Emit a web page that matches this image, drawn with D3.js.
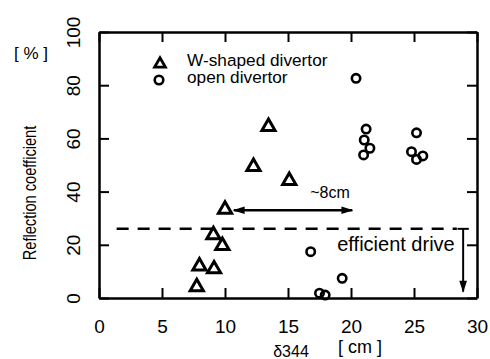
<!DOCTYPE html>
<html>
<head>
<meta charset="utf-8">
<script src="https://cdn.jsdelivr.net/npm/d3@7"></script>
<style>
  body { margin: 0; background: #fff; }
  svg { display: block; font-family: "Liberation Sans", Arial, sans-serif; }
</style>
</head>
<body>
<svg id="chart"></svg>
<script>
// W-shaped divertor (triangles)
const wShapedX = [13.45, 12.26, 15.1, 10.0, 9.08, 9.79, 7.97, 9.13, 7.76]
const wShapedY = [64.4, 49.4, 44.1, 33.3, 23.7, 19.7, 12.0, 10.9, 4.2]
// open divertor (circles)
const openX = [20.4, 21.2, 21.05, 21.5, 21.0, 25.2, 24.8, 25.2, 25.7, 16.8, 19.3, 17.5, 17.95]
const openY = [82.6, 63.5, 59.4, 56.3, 53.8, 62.1, 55.0, 52.1, 53.4, 17.4, 7.4, 1.8, 1.1]

const xTicks = [0, 5, 10, 15, 20, 25, 30]
const yTicks = [0, 20, 40, 60, 80, 100]

// annotations
const thresholdLine = [{ x: 1.4, y: 26 }, { x: 28.4, y: 26 }]
const spreadArrow = [{ x: 10.7, y: 33 }, { x: 20.1, y: 33 }]
const driveArrow = [{ x: 28.9, y: 26 }, { x: 28.9, y: 2.4 }]

const w = 490
const h = 359
const margin = { top: 32, right: 13, bottom: 61, left: 99 }

const svg = d3.select('#chart')
  .attr('width', w)
  .attr('height', h)

const defs = svg.append('defs')
defs.append('marker')
  .attr('id', 'head')
  .attr('viewBox', '0 0 10 10')
  .attr('refX', 9).attr('refY', 5)
  .attr('markerWidth', 14).attr('markerHeight', 12)
  .attr('orient', 'auto-start-reverse')
  .attr('markerUnits', 'userSpaceOnUse')
  .append('path').attr('d', 'M0,1.8 L10,5 L0,8.2 Z').attr('fill', '#000')

const xScale = d3.scaleLinear().domain([0, 30]).range([margin.left, w - margin.right])
const yScale = d3.scaleLinear().domain([0, 100]).range([h - margin.bottom, margin.top])

// axes, ticks pointing inward
const xAxis = d3.axisBottom(xScale).tickValues(xTicks).tickSizeInner(-10).tickSizeOuter(0)
const yAxis = d3.axisLeft(yScale).tickValues(yTicks).tickSizeInner(-10).tickSizeOuter(0)

const gx = svg.append('g')
  .attr('transform', `translate(0, ${h - margin.bottom})`)
  .call(xAxis)
gx.selectAll('text')
  .attr('y', 35).attr('dy', 0)
  .style('font-size', '19px').attr('fill', '#000')

const gy = svg.append('g')
  .attr('transform', `translate(${margin.left}, 0)`)
  .call(yAxis)
gy.selectAll('text')
  .attr('x', 0).attr('dy', 0)
  .attr('transform', 'translate(-19,0) rotate(-90)')
  .style('text-anchor', 'middle')
  .style('font-size', '19px')
  .attr('fill', '#000')

svg.append('g')
  .attr('transform', `translate(0, ${margin.top})`)
  .call(d3.axisTop(xScale).tickValues(xTicks).tickSizeInner(-10).tickSizeOuter(0).tickFormat(''))

svg.append('g')
  .attr('transform', `translate(${w - margin.right}, 0)`)
  .call(d3.axisRight(yScale).tickValues(yTicks).tickSizeInner(-10).tickSizeOuter(0).tickFormat(''))

svg.selectAll('.domain').attr('stroke-width', 2.5)
svg.selectAll('.tick line').attr('stroke-width', 2)

// axis titles
svg.append('text')
  .attr('transform', 'translate(36, 193) rotate(-90) scale(0.77,1)')
  .attr('text-anchor', 'middle')
  .style('font-size', '19px')
  .text('Reflection coefficient')

svg.append('text')
  .attr('x', 31).attr('y', 59)
  .attr('text-anchor', 'middle')
  .style('font-size', '17px')
  .text('[ % ]')

svg.append('text')
  .attr('x', 291).attr('y', 357)
  .attr('text-anchor', 'middle')
  .style('font-size', '16px')
  .text('δ344')

svg.append('text')
  .attr('x', 360).attr('y', 353)
  .attr('text-anchor', 'middle')
  .style('font-size', '18px')
  .text('[ cm ]')

// threshold dashed line
const line = d3.line().x(d => xScale(d.x)).y(d => yScale(d.y))
svg.append('path')
  .attr('d', line(thresholdLine))
  .attr('fill', 'none')
  .attr('stroke', '#000')
  .attr('stroke-width', 2.5)
  .attr('stroke-dasharray', '12,9')

// ~8cm double arrow
svg.append('path')
  .attr('d', line(spreadArrow))
  .attr('stroke', '#000')
  .attr('stroke-width', 2.5)
  .attr('marker-start', 'url(#head)')
  .attr('marker-end', 'url(#head)')

svg.append('text')
  .attr('x', 330).attr('y', 198)
  .attr('text-anchor', 'middle')
  .style('font-size', '16px')
  .text('~8cm')

// efficient drive arrow
svg.append('path')
  .attr('d', line(driveArrow))
  .attr('stroke', '#000')
  .attr('stroke-width', 2)
  .attr('marker-end', 'url(#head)')
svg.append('path')
  .attr('d', line([{ x: 28.45, y: 26 }, { x: 29.35, y: 26 }]))
  .attr('stroke', '#000')
  .attr('stroke-width', 2)

svg.append('text')
  .attr('x', 396).attr('y', 251)
  .attr('text-anchor', 'middle')
  .style('font-size', '20px')
  .text('efficient drive')

// data marks
const tri = d3.symbol().type(d3.symbolTriangle).size(75)
svg.append('g').selectAll('path')
  .data(wShapedX.map((x, i) => ({ x, y: wShapedY[i] })))
  .join('path')
  .attr('d', tri)
  .attr('transform', d => `translate(${xScale(d.x)}, ${yScale(d.y)})`)
  .attr('fill', '#fff')
  .attr('stroke', '#000')
  .attr('stroke-width', 3)

svg.append('g').selectAll('circle')
  .data(openX.map((x, i) => ({ x, y: openY[i] })))
  .join('circle')
  .attr('cx', d => xScale(d.x))
  .attr('cy', d => yScale(d.y))
  .attr('r', 4.2)
  .attr('fill', 'none')
  .attr('stroke', '#000')
  .attr('stroke-width', 2.6)

// legend
const legend = svg.append('g').style('font-size', '15px')
legend.append('path')
  .attr('d', d3.symbol().type(d3.symbolTriangle).size(50))
  .attr('transform', 'translate(160, 64)')
  .attr('fill', '#fff').attr('stroke', '#000').attr('stroke-width', 2.8)
legend.append('circle')
  .attr('cx', 159).attr('cy', 80).attr('r', 4.3)
  .attr('fill', 'none').attr('stroke', '#000').attr('stroke-width', 2.6)
legend.append('text').attr('transform', 'translate(187,66) scale(1.15,1.1)').text('W-shaped divertor')
legend.append('text').attr('transform', 'translate(187,83) scale(1.15,1.1)').text('open divertor')
</script>
</body>
</html>
